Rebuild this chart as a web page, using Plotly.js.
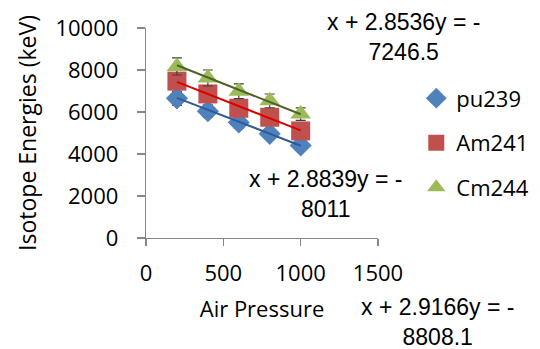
<!DOCTYPE html>
<html>
<head>
<meta charset="utf-8">
<script src="https://cdn.plot.ly/plotly-3.0.1.min.js"></script>
<style>html,body{margin:0;padding:0;background:#fff;}#chart{width:540px;height:349px;}</style>
</head>
<body>
<div id="chart"></div>
<script>
// ---- data ----
const airPressure = [200, 400, 600, 800, 1000];
const pu239 = [6650, 6040, 5500, 4960, 4410];
const am241 = [7470, 6860, 6180, 5750, 5100];
const cm244 = [8170, 7620, 6990, 6530, 5900];
const seriesNames = ["pu239", "Am241", "Cm244"];
const trendSlopes = [2.8536, 2.8839, 2.9166];
const trendIntercepts = [7246.5, 8011, 8808.1];
const errorPercent = 5;
const xTicks = [0, 500, 1000, 1500];
const yTicks = [0, 2000, 4000, 6000, 8000, 10000];

const markerColors = ["#4F81BD", "#C0504D", "#9BBB59"];
const markerSymbols = ["diamond", "square", "triangle-up"];
const markerSizes = [17, 19, 18];
const lineColors = ["#2E5B9A", "#D80000", "#4F6228"];
const seriesData = [pu239, am241, cm244];

const traces = [];
seriesData.forEach((ys, i) => {
  traces.push({
    type: "scatter", mode: "markers", name: seriesNames[i],
    x: airPressure, y: ys, legendgroup: "g" + i,
    marker: {symbol: markerSymbols[i], color: markerColors[i], size: markerSizes[i], line: {width: 0}},
    error_y: {type: "percent", value: errorPercent, color: "#404040", thickness: 1.2, width: 5}
  });
});
const xEnds = [airPressure[0], airPressure[airPressure.length - 1]];
seriesData.forEach((ys, i) => {
  traces.push({
    type: "scatter", mode: "lines", showlegend: false, hoverinfo: "skip",
    x: xEnds, y: xEnds.map(x => trendIntercepts[i] - trendSlopes[i] * x),
    line: {color: lineColors[i], width: 2}
  });
});

const eqPos = [[403, 37], [325, 194], [437, 322]];
const annotations = trendSlopes.map((s, i) => ({
  xref: "paper", yref: "paper",
  x: (eqPos[i][0] - 146) / 232, y: (238 - eqPos[i][1]) / 210,
  xanchor: "center", yanchor: "middle", showarrow: false,
  text: "x + " + s + "y = -<br>" + trendIntercepts[i],
  font: {family: "Liberation Sans, Arial, sans-serif", size: 23, color: "#000"}
}));

const tickFont = {family: "Open Sans, sans-serif", size: 22, color: "#000"};
const layout = {
  width: 540, height: 349,
  margin: {l: 146, r: 162, t: 28, b: 111, autoexpand: false},
  paper_bgcolor: "#fff", plot_bgcolor: "#fff",
  showlegend: true,
  xaxis: {
    range: [0, 1500], tickvals: xTicks, ticktext: xTicks.map(String),
    showgrid: false, zeroline: false, showline: true, linecolor: "#888", linewidth: 1.3,
    ticks: "outside", ticklen: 7, tickcolor: "#888", tickwidth: 1.3,
    tickfont: tickFont, ticklabelstandoff: 8,
    title: {text: "Air Pressure", font: {family: "Open Sans, sans-serif", size: 22, color: "#000"}, standoff: 16}
  },
  yaxis: {
    range: [0, 10000], tickvals: yTicks, ticktext: yTicks.map(String),
    showgrid: false, zeroline: false, showline: true, linecolor: "#888", linewidth: 1.3,
    ticks: "outside", ticklen: 8, tickcolor: "#888", tickwidth: 1.3,
    tickfont: tickFont, ticklabelstandoff: 14,
    title: {text: "Isotope Energies (keV)", font: {family: "Open Sans, sans-serif", size: 23, color: "#000"}, standoff: 12}
  },
  legend: {
    x: 1.165, y: 0.765, xanchor: "left", yanchor: "top",
    font: {family: "Open Sans, sans-serif", size: 22, color: "#000"},
    bgcolor: "rgba(0,0,0,0)", tracegroupgap: 13, itemwidth: 30
  },
  annotations: annotations
};
Plotly.newPlot("chart", traces, layout, {displayModeBar: false, staticPlot: true});
</script>
</body>
</html>
